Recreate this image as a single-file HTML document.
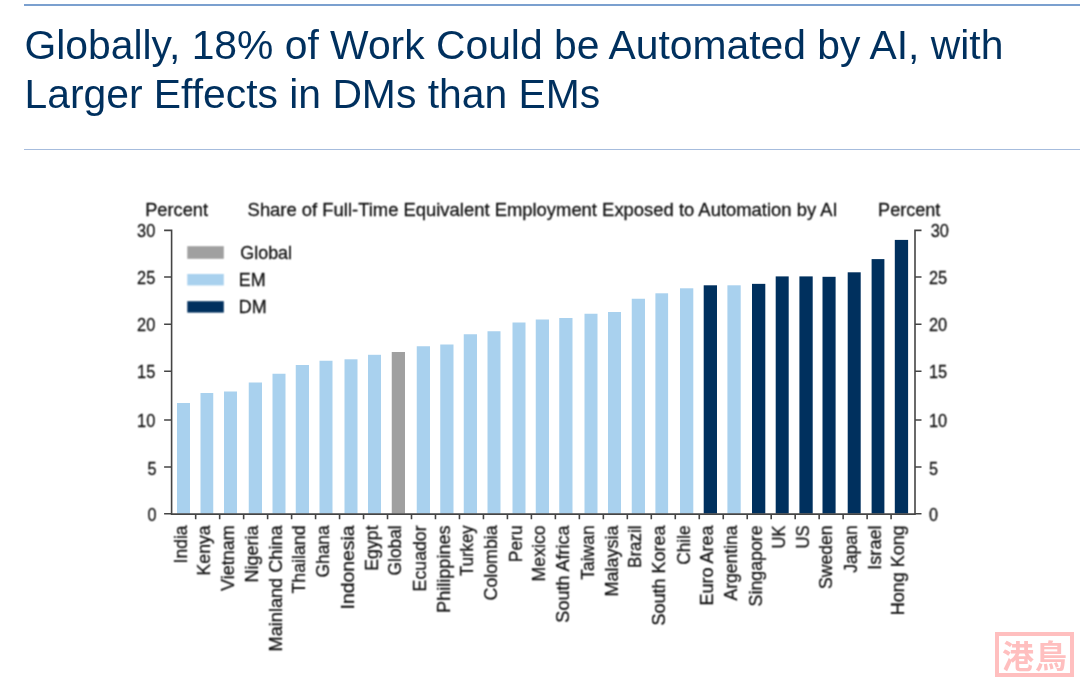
<!DOCTYPE html>
<html lang="en"><head><meta charset="utf-8"><title>Globally, 18% of Work Could be Automated by AI</title>
<style>
html,body{margin:0;padding:0;background:#fff;}
body{width:1080px;height:682px;position:relative;overflow:hidden;font-family:"Liberation Sans","Noto Sans CJK SC",sans-serif;}
.rule1{position:absolute;left:23.5px;top:4px;width:1057px;height:2.2px;background:#7ba0cf;}
.rule2{position:absolute;left:23.5px;top:148.9px;width:1057px;height:1.2px;background:#a6bcdd;}
h1{position:absolute;left:24.5px;top:21.2px;margin:0;font-weight:normal;font-size:40.85px;line-height:49px;color:#00305e;white-space:nowrap;letter-spacing:0px;}
svg{position:absolute;left:0;top:0;}
svg text{font-family:"Liberation Sans",sans-serif;fill:#111;stroke:#111;stroke-width:0.26px;}
.stamp{position:absolute;left:995px;top:632px;width:71px;height:37px;border:4px solid #ffbfbf;color:#ffbfbf;font-family:"Noto Sans CJK TC","Noto Sans CJK SC",sans-serif;font-weight:700;font-size:32px;line-height:36px;text-align:center;letter-spacing:1px;text-indent:1px;white-space:nowrap;overflow:hidden;}
</style></head><body>
<div class="rule1"></div>
<h1>Globally, 18% of Work Could be Automated by AI, with<br>Larger Effects in DMs than EMs</h1>
<div class="rule2"></div>
<svg width="1080" height="682" viewBox="0 0 1080 682">
<defs><filter id="bl" x="0" y="0" width="1080" height="682" filterUnits="userSpaceOnUse" color-interpolation-filters="sRGB"><feConvolveMatrix order="3" kernelMatrix="1 2 1 2 4 2 1 2 1" divisor="16" edgeMode="duplicate" preserveAlpha="false"/></filter></defs>
<g>

<rect x="177.00" y="403.00" width="13.00" height="110.60" fill="#a9d1ee"/>
<rect x="200.50" y="393.00" width="12.75" height="120.60" fill="#a9d1ee"/>
<rect x="224.00" y="391.50" width="13.00" height="122.10" fill="#a9d1ee"/>
<rect x="248.75" y="382.50" width="13.25" height="131.10" fill="#a9d1ee"/>
<rect x="272.50" y="373.75" width="13.00" height="139.85" fill="#a9d1ee"/>
<rect x="295.75" y="365.00" width="13.25" height="148.60" fill="#a9d1ee"/>
<rect x="319.50" y="360.75" width="13.00" height="152.85" fill="#a9d1ee"/>
<rect x="344.50" y="359.30" width="13.00" height="154.30" fill="#a9d1ee"/>
<rect x="368.00" y="354.80" width="13.00" height="158.80" fill="#a9d1ee"/>
<rect x="391.75" y="352.00" width="13.25" height="161.60" fill="#a0a0a0"/>
<rect x="416.75" y="346.25" width="13.25" height="167.35" fill="#a9d1ee"/>
<rect x="440.25" y="344.50" width="13.25" height="169.10" fill="#a9d1ee"/>
<rect x="463.75" y="334.25" width="13.25" height="179.35" fill="#a9d1ee"/>
<rect x="487.50" y="331.25" width="13.00" height="182.35" fill="#a9d1ee"/>
<rect x="512.50" y="322.50" width="13.00" height="191.10" fill="#a9d1ee"/>
<rect x="535.75" y="319.50" width="13.25" height="194.10" fill="#a9d1ee"/>
<rect x="559.25" y="318.00" width="13.25" height="195.60" fill="#a9d1ee"/>
<rect x="584.50" y="313.75" width="13.00" height="199.85" fill="#a9d1ee"/>
<rect x="608.00" y="312.00" width="13.00" height="201.60" fill="#a9d1ee"/>
<rect x="631.75" y="298.75" width="13.25" height="214.85" fill="#a9d1ee"/>
<rect x="655.40" y="293.30" width="12.70" height="220.30" fill="#a9d1ee"/>
<rect x="680.00" y="288.30" width="13.30" height="225.30" fill="#a9d1ee"/>
<rect x="703.70" y="285.30" width="13.30" height="228.30" fill="#00305e"/>
<rect x="727.40" y="285.30" width="13.30" height="228.30" fill="#a9d1ee"/>
<rect x="752.00" y="283.85" width="13.30" height="229.75" fill="#00305e"/>
<rect x="775.70" y="276.40" width="13.00" height="237.20" fill="#00305e"/>
<rect x="799.40" y="276.40" width="13.30" height="237.20" fill="#00305e"/>
<rect x="822.50" y="276.80" width="13.10" height="236.80" fill="#00305e"/>
<rect x="847.70" y="272.30" width="13.00" height="241.30" fill="#00305e"/>
<rect x="871.60" y="259.10" width="12.80" height="254.50" fill="#00305e"/>
<rect x="894.80" y="239.90" width="13.30" height="273.70" fill="#00305e"/>
<path d="M164.1 230.4H171.6V514.1H915.0V230.4H921.5" fill="none" stroke="#454545" stroke-width="1.6"/>
<path d="M164.1 277.00H171.6M915.0 277.00H921.5M164.1 324.30H171.6M915.0 324.30H921.5M164.1 371.30H171.6M915.0 371.30H921.5M164.1 420.00H171.6M915.0 420.00H921.5M164.1 467.00H171.6M915.0 467.00H921.5M164.1 513.80H171.6M915.0 513.80H921.5M195.68 514.1V519.3000000000001M219.66 514.1V519.3000000000001M243.64 514.1V519.3000000000001M267.62 514.1V519.3000000000001M291.60 514.1V519.3000000000001M315.58 514.1V519.3000000000001M339.56 514.1V519.3000000000001M363.54 514.1V519.3000000000001M387.52 514.1V519.3000000000001M411.50 514.1V519.3000000000001M435.48 514.1V519.3000000000001M459.46 514.1V519.3000000000001M483.44 514.1V519.3000000000001M507.42 514.1V519.3000000000001M531.40 514.1V519.3000000000001M555.38 514.1V519.3000000000001M579.36 514.1V519.3000000000001M603.34 514.1V519.3000000000001M627.32 514.1V519.3000000000001M651.30 514.1V519.3000000000001M675.28 514.1V519.3000000000001M699.26 514.1V519.3000000000001M723.24 514.1V519.3000000000001M747.22 514.1V519.3000000000001M771.20 514.1V519.3000000000001M795.18 514.1V519.3000000000001M819.16 514.1V519.3000000000001M843.14 514.1V519.3000000000001M867.12 514.1V519.3000000000001M891.10 514.1V519.3000000000001" fill="none" stroke="#454545" stroke-width="1.6"/>
</g><g filter="url(#bl)">
<text x="155.3" y="236.90" font-size="17.9" text-anchor="end" textLength="18.2" lengthAdjust="spacingAndGlyphs">30</text>
<text x="930.7" y="236.90" font-size="17.9" textLength="18.2" lengthAdjust="spacingAndGlyphs">30</text>
<text x="155.3" y="283.50" font-size="17.9" text-anchor="end" textLength="18.2" lengthAdjust="spacingAndGlyphs">25</text>
<text x="929.0" y="283.50" font-size="17.9" textLength="18.2" lengthAdjust="spacingAndGlyphs">25</text>
<text x="155.3" y="330.80" font-size="17.9" text-anchor="end" textLength="18.2" lengthAdjust="spacingAndGlyphs">20</text>
<text x="929.0" y="330.80" font-size="17.9" textLength="18.2" lengthAdjust="spacingAndGlyphs">20</text>
<text x="155.3" y="377.80" font-size="17.9" text-anchor="end" textLength="18.2" lengthAdjust="spacingAndGlyphs">15</text>
<text x="929.0" y="377.80" font-size="17.9" textLength="18.2" lengthAdjust="spacingAndGlyphs">15</text>
<text x="155.3" y="426.50" font-size="17.9" text-anchor="end" textLength="18.2" lengthAdjust="spacingAndGlyphs">10</text>
<text x="929.0" y="426.50" font-size="17.9" textLength="18.2" lengthAdjust="spacingAndGlyphs">10</text>
<text x="156.5" y="474.50" font-size="17.9" text-anchor="end" textLength="9.0" lengthAdjust="spacingAndGlyphs">5</text>
<text x="929.0" y="474.50" font-size="17.9" textLength="9.0" lengthAdjust="spacingAndGlyphs">5</text>
<text x="156.5" y="521.30" font-size="17.9" text-anchor="end" textLength="9.0" lengthAdjust="spacingAndGlyphs">0</text>
<text x="929.0" y="521.30" font-size="17.9" textLength="9.0" lengthAdjust="spacingAndGlyphs">0</text>
<text x="145.2" y="216" font-size="17.9" textLength="62.8" lengthAdjust="spacingAndGlyphs">Percent</text>
<text x="878.1" y="216" font-size="17.9" textLength="62.2" lengthAdjust="spacingAndGlyphs">Percent</text>
<text x="247.6" y="216" font-size="17.9" textLength="590" lengthAdjust="spacingAndGlyphs">Share of Full-Time Equivalent Employment Exposed to Automation by AI</text>
<rect x="187.3" y="246.2" width="36.5" height="12.60" fill="#a0a0a0"/>
<text x="240.3" y="258.6" font-size="17.9">Global</text>
<rect x="187.3" y="274.0" width="36.5" height="11.40" fill="#a9d1ee"/>
<text x="238.8" y="286.0" font-size="17.9">EM</text>
<rect x="187.3" y="301.2" width="36.5" height="11.40" fill="#00305e"/>
<text x="238.8" y="313.0" font-size="17.9">DM</text>
<text transform="translate(186.50 525.4) rotate(-90)" font-size="17.9" text-anchor="end" textLength="38.0" lengthAdjust="spacingAndGlyphs">India</text>
<text transform="translate(209.88 525.4) rotate(-90)" font-size="17.9" text-anchor="end" textLength="50.0" lengthAdjust="spacingAndGlyphs">Kenya</text>
<text transform="translate(233.50 525.4) rotate(-90)" font-size="17.9" text-anchor="end" textLength="65.6" lengthAdjust="spacingAndGlyphs">Vietnam</text>
<text transform="translate(258.38 525.4) rotate(-90)" font-size="17.9" text-anchor="end" textLength="57.0" lengthAdjust="spacingAndGlyphs">Nigeria</text>
<text transform="translate(282.00 525.4) rotate(-90)" font-size="17.9" text-anchor="end" textLength="126.0" lengthAdjust="spacingAndGlyphs">Mainland China</text>
<text transform="translate(305.38 525.4) rotate(-90)" font-size="17.9" text-anchor="end" textLength="68.2" lengthAdjust="spacingAndGlyphs">Thailand</text>
<text transform="translate(329.00 525.4) rotate(-90)" font-size="17.9" text-anchor="end" textLength="52.0" lengthAdjust="spacingAndGlyphs">Ghana</text>
<text transform="translate(354.00 525.4) rotate(-90)" font-size="17.9" text-anchor="end" textLength="84.0" lengthAdjust="spacingAndGlyphs">Indonesia</text>
<text transform="translate(377.50 525.4) rotate(-90)" font-size="17.9" text-anchor="end" textLength="45.3" lengthAdjust="spacingAndGlyphs">Egypt</text>
<text transform="translate(401.38 525.4) rotate(-90)" font-size="17.9" text-anchor="end" textLength="50.0" lengthAdjust="spacingAndGlyphs">Global</text>
<text transform="translate(426.38 525.4) rotate(-90)" font-size="17.9" text-anchor="end" textLength="66.0" lengthAdjust="spacingAndGlyphs">Ecuador</text>
<text transform="translate(449.88 525.4) rotate(-90)" font-size="17.9" text-anchor="end" textLength="87.5" lengthAdjust="spacingAndGlyphs">Philippines</text>
<text transform="translate(473.38 525.4) rotate(-90)" font-size="17.9" text-anchor="end" textLength="50.5" lengthAdjust="spacingAndGlyphs">Turkey</text>
<text transform="translate(497.00 525.4) rotate(-90)" font-size="17.9" text-anchor="end" textLength="75.0" lengthAdjust="spacingAndGlyphs">Colombia</text>
<text transform="translate(522.00 525.4) rotate(-90)" font-size="17.9" text-anchor="end" textLength="36.75" lengthAdjust="spacingAndGlyphs">Peru</text>
<text transform="translate(545.38 525.4) rotate(-90)" font-size="17.9" text-anchor="end" textLength="56.0" lengthAdjust="spacingAndGlyphs">Mexico</text>
<text transform="translate(568.88 525.4) rotate(-90)" font-size="17.9" text-anchor="end" textLength="97.25" lengthAdjust="spacingAndGlyphs">South Africa</text>
<text transform="translate(594.00 525.4) rotate(-90)" font-size="17.9" text-anchor="end" textLength="54.25" lengthAdjust="spacingAndGlyphs">Taiwan</text>
<text transform="translate(617.50 525.4) rotate(-90)" font-size="17.9" text-anchor="end" textLength="71.0" lengthAdjust="spacingAndGlyphs">Malaysia</text>
<text transform="translate(641.38 525.4) rotate(-90)" font-size="17.9" text-anchor="end" textLength="42.5" lengthAdjust="spacingAndGlyphs">Brazil</text>
<text transform="translate(664.75 525.4) rotate(-90)" font-size="17.9" text-anchor="end" textLength="100.0" lengthAdjust="spacingAndGlyphs">South Korea</text>
<text transform="translate(689.65 525.4) rotate(-90)" font-size="17.9" text-anchor="end" textLength="39.4" lengthAdjust="spacingAndGlyphs">Chile</text>
<text transform="translate(713.35 525.4) rotate(-90)" font-size="17.9" text-anchor="end" textLength="80.0" lengthAdjust="spacingAndGlyphs">Euro Area</text>
<text transform="translate(737.05 525.4) rotate(-90)" font-size="17.9" text-anchor="end" textLength="75.0" lengthAdjust="spacingAndGlyphs">Argentina</text>
<text transform="translate(761.65 525.4) rotate(-90)" font-size="17.9" text-anchor="end" textLength="81.0" lengthAdjust="spacingAndGlyphs">Singapore</text>
<text transform="translate(785.20 525.4) rotate(-90)" font-size="17.9" text-anchor="end" textLength="23.0" lengthAdjust="spacingAndGlyphs">UK</text>
<text transform="translate(809.05 525.4) rotate(-90)" font-size="17.9" text-anchor="end" textLength="23.0" lengthAdjust="spacingAndGlyphs">US</text>
<text transform="translate(832.05 525.4) rotate(-90)" font-size="17.9" text-anchor="end" textLength="63.7" lengthAdjust="spacingAndGlyphs">Sweden</text>
<text transform="translate(857.20 525.4) rotate(-90)" font-size="17.9" text-anchor="end" textLength="47.4" lengthAdjust="spacingAndGlyphs">Japan</text>
<text transform="translate(881.00 525.4) rotate(-90)" font-size="17.9" text-anchor="end" textLength="44.4" lengthAdjust="spacingAndGlyphs">Israel</text>
<text transform="translate(904.45 525.4) rotate(-90)" font-size="17.9" text-anchor="end" textLength="89.8" lengthAdjust="spacingAndGlyphs">Hong Kong</text>
</g></svg>
<div class="stamp">港鳥</div>
</body></html>
